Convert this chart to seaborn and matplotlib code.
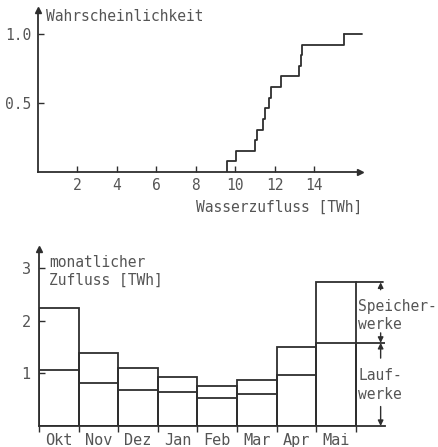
import matplotlib
matplotlib.use('Agg')
import matplotlib.pyplot as plt
import seaborn as sns
import numpy as np
import pandas as pd

# Obere Grafik: beobachtete Jahres-Wasserzuflüsse [TWh] (Summenhäufigkeit)
zufluss_jahr = [9.6, 10.05, 11.0, 11.1, 11.43, 11.52, 11.74, 11.8,
                12.33, 13.26, 13.35, 13.38, 15.5]
x_ticks = [2, 4, 6, 8, 10, 12, 14]
y_ticks = [0.5, 1.0]

# Untere Grafik: monatlicher Zufluss [TWh]
monate = ['Okt', 'Nov', 'Dez', 'Jan', 'Feb', 'Mar', 'Apr', 'Mai']
gesamt = [2.25, 1.38, 1.11, 0.93, 0.76, 0.88, 1.50, 2.73]     # Speicher- + Laufwerke
laufwerke = [1.06, 0.82, 0.68, 0.65, 0.54, 0.60, 0.97, 1.58]

LINIE = '#2e2e2e'
TEXT = '#555555'
LW = 1.3

sns.set_theme(style='white')
plt.rcParams['font.family'] = ['DejaVu Sans Mono', 'DejaVu Sans']
plt.rcParams['font.size'] = 10.5
plt.rcParams['text.color'] = TEXT
plt.rcParams['xtick.color'] = LINIE
plt.rcParams['ytick.color'] = LINIE
plt.rcParams['xtick.labelcolor'] = TEXT
plt.rcParams['ytick.labelcolor'] = TEXT

fig = plt.figure(figsize=(4.38, 4.47), dpi=100)

# ---------- obere Grafik: Wahrscheinlichkeit ----------
ax1 = fig.add_axes([37.5 / 438, 275 / 447, 322 / 438, 162 / 447])
df = pd.DataFrame({'zufluss': zufluss_jahr})
sns.ecdfplot(data=df, x='zufluss', ax=ax1, color=LINIE, linewidth=LW)
# Verlängerung der Kurve bei 1.0 bis zum Ende der Achse
ax1.plot([max(zufluss_jahr), 16.45], [1.0, 1.0], color=LINIE, lw=LW, clip_on=False)
ax1.set_xlim(0, 16.3)
ax1.set_ylim(0, 1.174)
ax1.set_xticks(x_ticks)
ax1.set_yticks(y_ticks, ['0.5', '1.0'])
ax1.tick_params(bottom=True, left=True, direction='in', length=4, width=1, pad=4.5,
                labelsize=10.5)
ax1.set_xlabel('')
ax1.set_ylabel('')
for s in ['top', 'right']:
    ax1.spines[s].set_visible(False)
for s in ['left', 'bottom']:
    ax1.spines[s].set_color(LINIE)
    ax1.spines[s].set_linewidth(LW)
ax1.plot(1, 0, '>', color=LINIE, ms=5, transform=ax1.transAxes, clip_on=False)
ax1.plot(0, 1, '^', color=LINIE, ms=5, transform=ax1.transAxes, clip_on=False)
ax1.text(0.45, 1.13, 'Wahrscheinlichkeit', va='center', ha='left')
ax1.text(1.01, -0.215, 'Wasserzufluss [TWh]', transform=ax1.transAxes, va='center', ha='right')

# ---------- untere Grafik: monatlicher Zufluss ----------
ax2 = fig.add_axes([39 / 438, 21 / 447, 345.6 / 438, 177.3 / 447])
daten = pd.DataFrame({'Monat': monate, 'gesamt': gesamt, 'lauf': laufwerke})
sns.barplot(data=daten, x='Monat', y='gesamt', order=monate, width=1, fill=False,
            color=LINIE, linewidth=LW, ax=ax2)
sns.barplot(data=daten, x='Monat', y='lauf', order=monate, width=1, fill=False,
            color=LINIE, linewidth=LW, ax=ax2)
ax2.set_xlim(-0.5, 8.23)
ax2.set_ylim(0, 3.37)
ax2.set_xlabel('')
ax2.set_ylabel('')
ax2.set_yticks([1, 2, 3])
ax2.tick_params(axis='y', left=True, direction='in', length=4, width=1, pad=6)
ax2.set_xticks(range(len(monate)), monate)
ax2.set_xticks(np.arange(len(monate) + 1) - 0.5, minor=True)
ax2.tick_params(axis='x', which='major', bottom=True, length=0, pad=5)
ax2.tick_params(axis='x', which='minor', bottom=True, direction='out', length=4,
                width=1, color=LINIE)
for s in ['top', 'right']:
    ax2.spines[s].set_visible(False)
for s in ['left', 'bottom']:
    ax2.spines[s].set_color(LINIE)
    ax2.spines[s].set_linewidth(LW)
ax2.plot(0, 1, '^', color=LINIE, ms=5, transform=ax2.transAxes, clip_on=False)
ax2.text(-0.25, 2.94, 'monatlicher\nZufluss [TWh]', va='center', ha='left', linespacing=1.3)

# Verlängerte Linien und Pfeile rechts vom Mai
rand = len(monate) - 0.5
ax2.plot([rand, 8.2], [gesamt[-1]] * 2, color=LINIE, lw=LW)
ax2.plot([rand, 8.23], [laufwerke[-1]] * 2, color=LINIE, lw=LW)
px = 8.13
pfeil = dict(arrowstyle='-|>', color=LINIE, lw=1, mutation_scale=8, shrinkA=0, shrinkB=0)
ax2.annotate('', xy=(px, gesamt[-1]), xytext=(px, gesamt[-1] - 0.14), arrowprops=pfeil)
ax2.annotate('', xy=(px, laufwerke[-1]), xytext=(px, laufwerke[-1] + 0.19), arrowprops=pfeil)
ax2.annotate('', xy=(px, laufwerke[-1]), xytext=(px, laufwerke[-1] - 0.29), arrowprops=pfeil)
ax2.annotate('', xy=(px, 0), xytext=(px, 0.37), arrowprops=pfeil)
ax2.text(7.57, 2.1, 'Speicher-\nwerke', va='center', ha='left', linespacing=1.3)
ax2.text(7.57, 0.78, 'Lauf-\nwerke', va='center', ha='left', linespacing=1.3)

fig.savefig('out.png', dpi=100)
